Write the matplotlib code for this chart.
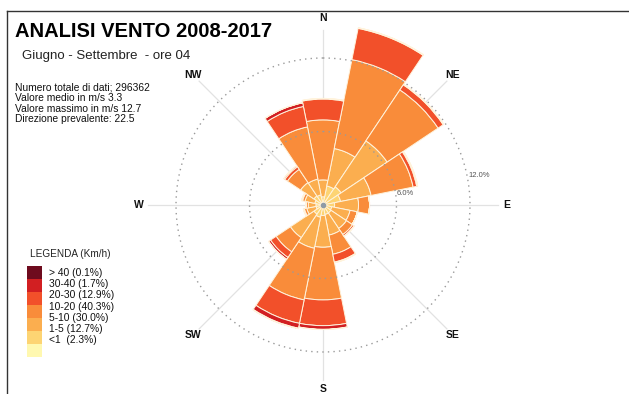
import numpy as np
import matplotlib
matplotlib.use("Agg")
import matplotlib.pyplot as plt
from matplotlib.patches import Rectangle
from matplotlib.lines import Line2D

plt.rcParams['font.family'] = ['Liberation Sans', 'DejaVu Sans']

# direzioni di provenienza (16 settori da 22.5 gradi)
direzioni = ["N", "NNE", "NE", "ENE", "E", "ESE", "SE", "SSE",
             "S", "SSW", "SW", "WSW", "W", "WNW", "NW", "NNW"]
gradi = np.arange(16) * 22.5

# frequenze (%) per classe di velocita' (km/h), una voce per direzione
classe_lt1 = [0.12, 0.18, 0.18, 0.16, 0.15, 0.13, 0.13, 0.14, 0.16, 0.17, 0.14, 0.13, 0.13, 0.13, 0.14, 0.14]
classe_1_5 = [0.55, 1.4, 1.6, 1.3, 0.8, 0.6, 0.65, 0.65, 0.7, 0.85, 0.75, 0.45, 0.45, 0.55, 0.75, 0.7]
classe_5_10 = [1.38, 3.12, 4.52, 2.54, 1.95, 1.52, 1.52, 1.71, 2.59, 2.58, 2.31, 0.77, 0.62, 0.82, 1.31, 1.31]
classe_10_20 = [4.9, 7.4, 5.0, 3.5, 0.9, 0.6, 0.6, 1.6, 4.3, 4.3, 1.4, 0.2, 0.15, 0.2, 1.3, 4.35]
classe_20_30 = [1.7, 2.6, 0.5, 0.3, 0, 0, 0.15, 0.65, 2.1, 1.95, 0.55, 0.05, 0.05, 0.05, 0.25, 1.7]
classe_30_40 = [0.05, 0.05, 0.05, 0.08, 0, 0, 0.02, 0.05, 0.3, 0.4, 0.18, 0.03, 0.03, 0.03, 0.1, 0.3]
classe_gt40 = [0, 0, 0, 0, 0, 0, 0, 0, 0.02, 0.05, 0.02, 0, 0, 0, 0, 0.01]

classi = [classe_lt1, classe_1_5, classe_5_10, classe_10_20, classe_20_30, classe_30_40, classe_gt40]
colori = ["#fff8b0", "#fdd473", "#fbae4f", "#f98c3a", "#f2502a", "#d21f22", "#6e0b1e"]
etichette = ["<1  (2.3%)", "1-5 (12.7%)", "5-10 (30.0%)", "10-20 (40.3%)",
             "20-30 (12.9%)", "30-40 (1.7%)", "> 40 (0.1%)"]

W, H = 629, 394
fig = plt.figure(figsize=(W / 100, H / 100), dpi=100)

def fx(x):
    return x / W

def fy(y):
    return 1 - y / H

# rosa dei venti: centro a (323, 205) px, 12.25 px per punto percentuale
ax = fig.add_axes([fx(127), fy(401), 392 / W, 392 / H], projection="polar")
ax.set_theta_zero_location("N")
ax.set_theta_direction(-1)
ax.set_rlim(0, 16)
ax.set_axis_off()

theta = np.deg2rad(gradi)
larghezza = np.deg2rad(22.5)

# assi principali
for ang in range(0, 360, 45):
    ax.plot([np.deg2rad(ang)] * 2, [0, 14.3], color="#e2e2e2", lw=0.9, zorder=0.5)

base = np.zeros(16)
for valori, col in zip(classi, colori):
    valori = np.array(valori)
    ax.bar(theta, valori, width=larghezza, bottom=base, color=col,
           edgecolor="#fff3dc", linewidth=0.7, zorder=2)
    base = base + valori

# cerchi di riferimento
t = np.linspace(0, 2 * np.pi, 500)
for r in [6, 12]:
    ax.plot(t, np.full_like(t, r), color="#9a9a9a", lw=1, ls=(0, (1, 3)), zorder=3)
ax.text(np.deg2rad(82), 6.8, "6.0%", fontsize=5.5, color="#555555", ha="center", va="center")
ax.text(np.deg2rad(79.5), 13.0, "12.0%", fontsize=5.5, color="#555555", ha="center", va="center")
ax.plot(0, 0, "o", ms=3, color="#8f9ba6", zorder=4)

for ang, nome in zip(range(0, 360, 45), ["N", "NE", "E", "SE", "S", "SW", "W", "NW"]):
    r = 15.3 if nome == "N" else 15.0
    ax.text(np.deg2rad(ang), r, nome, fontsize=7.5, fontweight="bold",
            ha="center", va="center", color="#111111")

# cornice
fig.add_artist(Line2D([fx(7), 1], [fy(11), fy(11)], color="#333333", lw=1))
fig.add_artist(Line2D([fx(7), fx(7)], [fy(11), 0], color="#333333", lw=1))

# titoli e statistiche
fig.text(fx(15), fy(37), "ANALISI VENTO 2008-2017", fontsize=14.5, fontweight="bold", va="baseline")
fig.text(fx(22), fy(59), "Giugno - Settembre  - ore 04", fontsize=9.5, va="baseline", color="#222222")
righe = ["Numero totale di dati; 296362", "Valore medio in m/s 3.3",
         "Valore massimo in m/s 12.7", "Direzione prevalente: 22.5"]
for i, riga in enumerate(righe):
    fig.text(fx(15), fy(90.7 + 10.6 * i), riga, fontsize=7.4, va="baseline", color="#111111")

# legenda
fig.text(fx(30), fy(257), "LEGENDA (Km/h)", fontsize=7.2, va="baseline", color="#222222")
for i, (col, lab) in enumerate(zip(colori[::-1], etichette[::-1])):
    fig.add_artist(Rectangle((fx(27), fy(266 + 13 * (i + 1))), 15 / W, 13 / H,
                             transform=fig.transFigure, facecolor=col, edgecolor="none"))
    fig.text(fx(49), fy(276 + 11.2 * i), lab, fontsize=7.4, va="baseline", color="#111111")

fig.savefig("out.png", dpi=100, facecolor="white")
